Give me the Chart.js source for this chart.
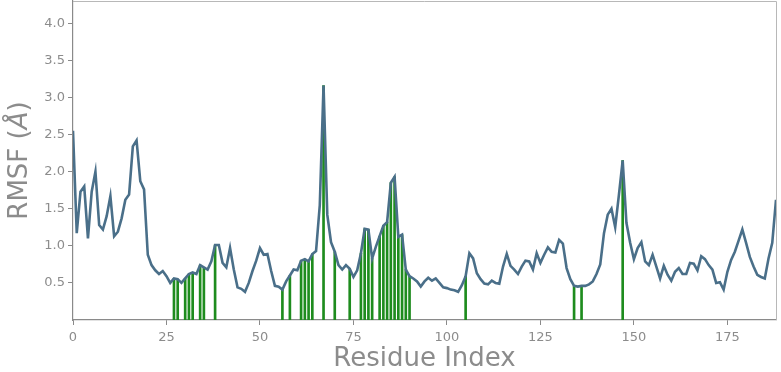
<!DOCTYPE html>
<html>
<head>
<meta charset="utf-8">
<script src="https://cdn.jsdelivr.net/npm/chart.js@4/dist/chart.umd.min.js"></script>
<style>
  html, body { margin: 0; padding: 0; background: #fff; }
  canvas { display: block; }
</style>
</head>
<body>
<canvas id="rmsfChart" width="781" height="372"></canvas>
<script>
// RMSF per residue (index 0..188)
const rmsf = [
	2.55, 1.17, 1.73, 1.80, 1.10, 1.73, 2.00, 1.28, 1.22, 1.40,
	1.67, 1.13, 1.19, 1.37, 1.62, 1.69, 2.34, 2.42, 1.87, 1.76,
	0.88, 0.74, 0.67, 0.62, 0.66, 0.59, 0.50, 0.56, 0.55, 0.50,
	0.56, 0.62, 0.64, 0.62, 0.74, 0.71, 0.68, 0.79, 1.01, 1.01,
	0.77, 0.71, 0.97, 0.68, 0.44, 0.42, 0.38, 0.50, 0.66, 0.80,
	0.97, 0.88, 0.89, 0.66, 0.46, 0.45, 0.41, 0.52, 0.60, 0.68,
	0.67, 0.80, 0.82, 0.79, 0.89, 0.93, 1.55, 3.16, 1.42, 1.05,
	0.92, 0.74, 0.68, 0.74, 0.69, 0.58, 0.67, 0.90, 1.23, 1.22,
	0.83, 0.99, 1.13, 1.27, 1.32, 1.85, 1.93, 1.12, 1.15, 0.68,
	0.59, 0.56, 0.52, 0.45, 0.52, 0.57, 0.53, 0.56, 0.50, 0.44,
	0.43, 0.41, 0.40, 0.38, 0.47, 0.59, 0.90, 0.83, 0.63, 0.55,
	0.49, 0.48, 0.53, 0.50, 0.49, 0.72, 0.89, 0.73, 0.68, 0.62,
	0.72, 0.80, 0.79, 0.68, 0.90, 0.77, 0.88, 0.98, 0.92, 0.91,
	1.08, 1.03, 0.70, 0.55, 0.46, 0.45, 0.46, 0.46, 0.48, 0.52,
	0.62, 0.75, 1.17, 1.42, 1.50, 1.25, 1.69, 2.15, 1.31, 1.04,
	0.82, 0.97, 1.05, 0.79, 0.74, 0.88, 0.72, 0.56, 0.73, 0.61,
	0.53, 0.65, 0.70, 0.62, 0.62, 0.77, 0.76, 0.67, 0.86, 0.82,
	0.74, 0.68, 0.50, 0.51, 0.41, 0.65, 0.81, 0.92, 1.07, 1.22,
	1.04, 0.85, 0.72, 0.61, 0.58, 0.56, 0.83, 1.04, 1.62
];

// residues highlighted with green stems
const highlighted = [
	27, 28, 30, 31, 32, 34, 35, 38,
	56, 58, 61, 62, 63, 64, 67, 70, 74,
	77, 78, 79, 80, 82, 83, 84, 85, 86, 87, 88, 89, 90,
	105, 134, 136, 147
];

const xTickValues = [0, 25, 50, 75, 100, 125, 150, 175];
const yTickValues = [0.5, 1.0, 1.5, 2.0, 2.5, 3.0, 3.5, 4.0];

const lineColor = "#4a6f89";
const stemColor = "#1e8c1e";
const axisGray = "#8a8a8a";
const textGray = "#8c8c8c";

// thin frame on top/right like matplotlib spines
const framePlugin = {
	id: "frame",
	afterDraw(chart) {
		const { ctx, chartArea } = chart;
		ctx.save();
		ctx.strokeStyle = "#b8b8b8";
		ctx.lineWidth = 1;
		ctx.beginPath();
		ctx.moveTo(chartArea.left, chartArea.top + 0.5);
		ctx.lineTo(chartArea.right + 0.5, chartArea.top + 0.5);
		ctx.lineTo(chartArea.right + 0.5, chartArea.bottom);
		ctx.stroke();
		ctx.restore();
	},
};

// y title with an italic angstrom sign, as in the mathtext label
const yTitlePlugin = {
	id: "yTitle",
	afterDraw(chart) {
		const { ctx, chartArea } = chart;
		const parts = [
			{ text: "RMSF (", font: "26px 'DejaVu Sans'" },
			{ text: "Å", font: "italic 26px 'DejaVu Sans'" },
			{ text: ")", font: "26px 'DejaVu Sans'" },
		];
		ctx.save();
		let total = 0;
		parts.forEach((p) => {
			ctx.font = p.font;
			p.w = ctx.measureText(p.text).width;
			total += p.w;
		});
		ctx.translate(20, (chartArea.top + chartArea.bottom) / 2);
		ctx.rotate(-Math.PI / 2);
		ctx.fillStyle = textGray;
		ctx.textBaseline = "middle";
		let x = -total / 2;
		parts.forEach((p) => {
			ctx.font = p.font;
			ctx.fillText(p.text, x, 0);
			x += p.w;
		});
		ctx.restore();
	},
};

const ctx = document.getElementById("rmsfChart").getContext("2d");
new Chart(ctx, {
	data: {
		datasets: [
			{
				type: "line",
				label: "RMSF",
				data: rmsf.map((v, i) => ({ x: i, y: v })),
				borderColor: lineColor,
				borderWidth: 2.6,
				pointRadius: 0,
				tension: 0,
				order: 0,
			},
			{
				type: "bar",
				label: "highlight",
				data: highlighted.map((r) => ({ x: r, y: rmsf[r] })),
				backgroundColor: stemColor,
				barThickness: 2,
				grouped: false,
				order: 1,
			},
		],
	},
	options: {
		responsive: false,
		animation: false,
		devicePixelRatio: 1,
		layout: { padding: { top: 1, right: 5, left: 0, bottom: 0 } },
		plugins: {
			legend: { display: false },
			tooltip: { enabled: false },
		},
		scales: {
			x: {
				type: "linear",
				min: 0,
				max: 188,
				offset: false,
				afterBuildTicks: (scale) => {
					scale.ticks = xTickValues.map((v) => ({ value: v }));
				},
				afterFit: (scale) => {
					scale.height = 52;
				},
				grid: {
					offset: false,
					drawOnChartArea: false,
					drawTicks: true,
					tickLength: 5,
					color: axisGray,
				},
				border: { color: axisGray, width: 1.2 },
				ticks: {
					color: textGray,
					font: { family: "DejaVu Sans", size: 13 },
					padding: 5,
					maxRotation: 0,
				},
				title: {
					display: true,
					text: "Residue Index",
					color: textGray,
					font: { family: "DejaVu Sans", size: 26, lineHeight: 1 },
					padding: { top: 0, bottom: 0 },
				},
			},
			y: {
				type: "linear",
				min: 0,
				max: 4.3,
				afterBuildTicks: (scale) => {
					scale.ticks = yTickValues.map((v) => ({ value: v }));
				},
				afterFit: (scale) => {
					scale.width = 73;
					scale.paddingTop = 0;
					scale.paddingBottom = 0;
				},
				grid: {
					drawOnChartArea: false,
					drawTicks: true,
					tickLength: 5,
					color: axisGray,
				},
				border: { color: axisGray, width: 1.2 },
				ticks: {
					color: textGray,
					font: { family: "DejaVu Sans", size: 13 },
					padding: 3,
					callback: (v) => v.toFixed(1),
				},
				title: { display: false },
			},
		},
	},
	plugins: [framePlugin, yTitlePlugin],
});
</script>
</body>
</html>
